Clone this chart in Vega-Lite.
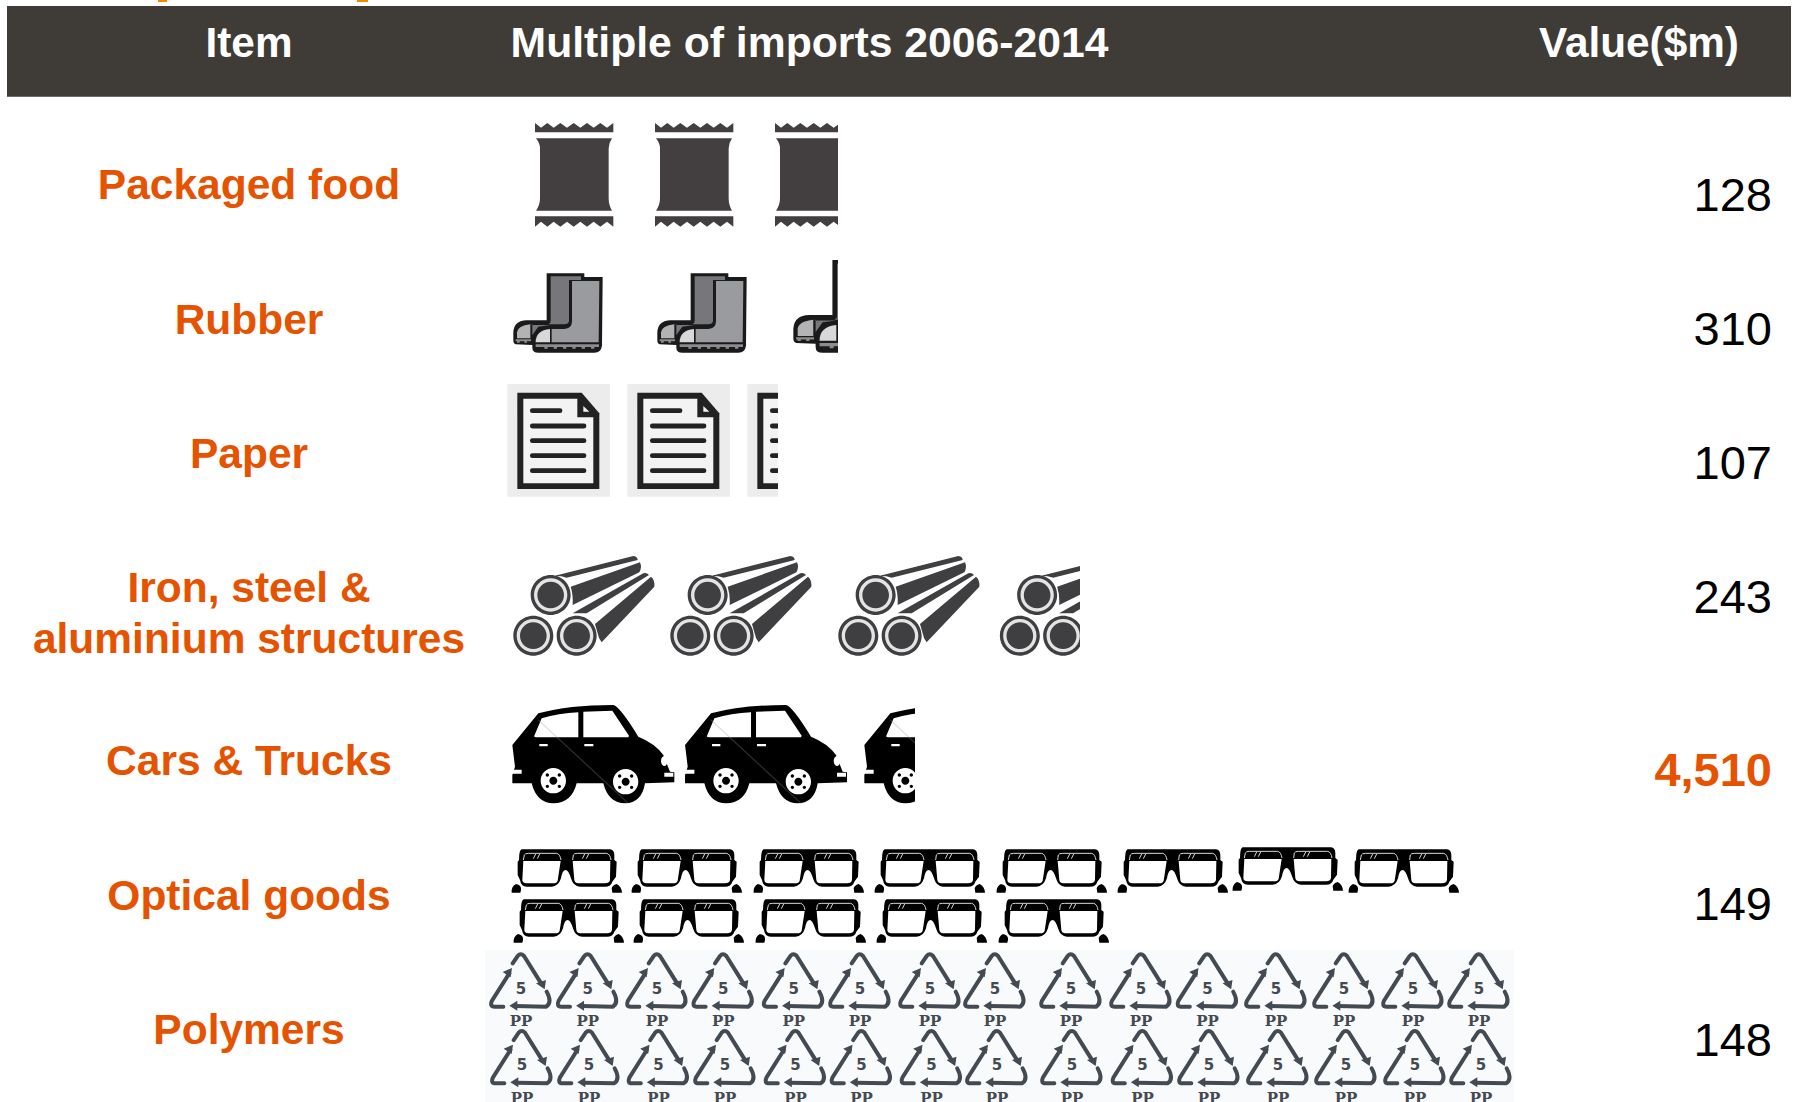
{
"$schema":"https://vega.github.io/schema/vega-lite/v6.json",
"width":1796,"height":1102,"padding":0,
"autosize":{"type":"none"},
"background":"white",
"config":{"view":{"stroke":null}},
"datasets":{
"bar":[{"x":0.07,"x2":17.91,"y":0.06,"y2":0.967}],
"scraps":[{"x":1.58,"x2":1.67,"y":0,"y2":0.02},{"x":3.57,"x2":3.68,"y":0,"y2":0.02}],
"header":[{"label":"Item","x":2.49,"y":0.57},{"label":"Value($m)","x":16.39,"y":0.57}],
"headerWide":[{"label":"Multiple of imports 2006-2014","x":8.095,"y":0.57}],
"labels":[{"label":"Packaged food","x":2.49,"y":1.99},{"label":"Rubber","x":2.49,"y":3.34},{"label":"Paper","x":2.49,"y":4.68},{"label":"Iron, steel &","x":2.49,"y":6.02},{"label":"aluminium structures","x":2.49,"y":6.53},{"label":"Cars & Trucks","x":2.49,"y":7.75},{"label":"Optical goods","x":2.49,"y":9.10},{"label":"Polymers","x":2.49,"y":10.44}],
"values":[{"item":"Packaged food","value":"128","x":17.72,"y":2.107},{"item":"Rubber","value":"310","x":17.72,"y":3.447},{"item":"Paper","value":"107","x":17.72,"y":4.793},{"item":"Iron, steel & aluminium structures","value":"243","x":17.72,"y":6.134},{"item":"Optical goods","value":"149","x":17.72,"y":9.204},{"item":"Polymers","value":"148","x":17.72,"y":10.556}],
"highlight":[{"item":"Cars & Trucks","value":"4,510","x":17.72,"y":7.864}],
"food":[{"x":5.10,"y":1.15},{"x":6.30,"y":1.15},{"x":7.50,"y":1.15}],
"boots":[{"x":5.05,"y":2.55,"variant":"normal"},{"x":6.49,"y":2.55,"variant":"normal"},{"x":7.836,"y":2.384,"variant":"stretched"}],
"paper":[{"x":5.00,"y":3.80},{"x":6.20,"y":3.80},{"x":7.40,"y":3.80}],
"pipes":[{"x":5.05,"y":5.45},{"x":6.62,"y":5.45},{"x":8.30,"y":5.45},{"x":9.915,"y":5.45}],
"cars":[{"x":5.05,"y":6.95},{"x":6.777,"y":6.95},{"x":8.57,"y":6.95}],
"glasses":[{"x":5.05,"y":8.40},{"x":6.25,"y":8.40},{"x":7.47,"y":8.40},{"x":8.68,"y":8.40},{"x":9.90,"y":8.40},{"x":11.11,"y":8.40},{"x":12.26,"y":8.38},{"x":13.42,"y":8.40},{"x":5.07,"y":8.90},{"x":6.27,"y":8.90},{"x":7.49,"y":8.90},{"x":8.70,"y":8.90},{"x":9.92,"y":8.90}],
"polymer":[{"x":4.70,"y":9.30},{"x":5.367,"y":9.30},{"x":6.06,"y":9.30},{"x":6.723,"y":9.30},{"x":7.427,"y":9.30},{"x":8.09,"y":9.30},{"x":8.79,"y":9.30},{"x":9.44,"y":9.30},{"x":10.20,"y":9.30},{"x":10.90,"y":9.30},{"x":11.565,"y":9.30},{"x":12.25,"y":9.30},{"x":12.93,"y":9.30},{"x":13.62,"y":9.30},{"x":14.28,"y":9.30},
{"x":4.71,"y":10.067},{"x":5.38,"y":10.067},{"x":6.075,"y":10.067},{"x":6.74,"y":10.067},{"x":7.445,"y":10.067},{"x":8.105,"y":10.067},{"x":8.805,"y":10.067},{"x":9.46,"y":10.067},{"x":10.21,"y":10.067},{"x":10.915,"y":10.067},{"x":11.58,"y":10.067},{"x":12.27,"y":10.067},{"x":12.95,"y":10.067},{"x":13.64,"y":10.067},{"x":14.30,"y":10.067}],
"polymerBack":[{"x":4.85,"x2":15.14,"y":9.50,"y2":11.02}],
"cuts":[{"x":8.38,"x2":9.6,"y":1.15,"y2":2.4},{"x":8.38,"x2":9.6,"y":2.5,"y2":3.65},{"x":7.78,"x2":8.9,"y":3.8,"y2":5.05},{"x":10.80,"x2":11.95,"y":5.45,"y2":6.7},{"x":9.15,"x2":10.3,"y":6.9,"y2":8.1}]
},
"encoding":{
"x":{"field":"x","type":"quantitative","scale":{"domain":[0,17.96],"nice":false,"zero":false},"axis":null},
"y":{"field":"y","type":"quantitative","scale":{"domain":[0,11.02],"nice":false,"zero":false,"reverse":true},"axis":null}
},
"layer":[
{"data":{"name":"scraps"},"mark":{"type":"rect","fill":"#f28a00"},"encoding":{"x2":{"field":"x2"},"y2":{"field":"y2"}}},
{"data":{"name":"bar"},"mark":{"type":"rect","fill":"#3f3b36"},"encoding":{"x2":{"field":"x2"},"y2":{"field":"y2"}}},
{"data":{"name":"polymerBack"},"mark":{"type":"rect","fill":"#f9fafc"},"encoding":{"x2":{"field":"x2"},"y2":{"field":"y2"}}},
{"data":{"name":"header"},"mark":{"type":"text","font":"Liberation Sans","fontWeight":"bold","fontSize":42.3,"fill":"white","align":"center","baseline":"alphabetic"},"encoding":{"text":{"field":"label"}}},
{"data":{"name":"headerWide"},"mark":{"type":"text","font":"Liberation Sans","fontWeight":"bold","fontSize":42.7,"fill":"white","align":"center","baseline":"alphabetic"},"encoding":{"text":{"field":"label"}}},
{"data":{"name":"labels"},"mark":{"type":"text","font":"Liberation Sans","fontWeight":"bold","fontSize":42.5,"fill":"#e65300","align":"center","baseline":"alphabetic"},"encoding":{"text":{"field":"label"}}},
{"data":{"name":"values"},"mark":{"type":"text","font":"Liberation Sans","fontSize":47,"fill":"black","align":"right","baseline":"alphabetic"},"encoding":{"text":{"field":"value"}}},
{"data":{"name":"highlight"},"mark":{"type":"text","font":"Liberation Sans","fontWeight":"bold","fontSize":47,"fill":"#e65300","align":"right","baseline":"alphabetic"},"encoding":{"text":{"field":"value"}}},

{"data":{"name":"food"},"mark":{"type":"point","filled":true,"opacity":1,"size":0.4444,"fill":"#433e40","strokeWidth":0,"shape":"M75 52L75 24L93 38L112 24L131 38L151 24L171 38L191 24L211 38L231 24L251 38L271 24L291 38L310 24L310 52ZM78 70L306 70Q296 85 296 100L296 250Q296 270 306 287L78 287Q90 270 90 250L90 100Q90 85 78 70ZM75 304L310 304L310 335L291 320L271 335L251 320L231 335L211 320L191 335L171 320L151 335L131 320L112 335L93 320L75 335Z"}},

{"data":{"name":"boots"},"mark":{"type":"point","filled":true,"opacity":1,"fill":"#1a1a1a","strokeWidth":0,"shape":"M125 55L238 55L238 66L293 66L291 272Q288 293 268 293L100 293Q82 293 82 278L82 270L32 268Q25 266 25 256L25 230Q28 197 65 196L125 196Z"},"encoding":{"size":{"field":"variant","type":"ordinal","scale":{"domain":["normal","stretched"],"range":[0.4444,0.61]},"legend":null}}},
{"data":{"name":"boots"},"mark":{"type":"point","filled":true,"opacity":1,"fill":"#77777b","strokeWidth":0,"shape":"M137 64L228 64L228 75L192 75L192 198Q190 208 178 208L82 208L82 240L100 215L135 210L80 210L80 208L130 208Q137 206 137 198Z"},"encoding":{"size":{"field":"variant","type":"ordinal","scale":{"domain":["normal","stretched"],"range":[0.4444,0.61]},"legend":null}}},
{"data":{"name":"boots"},"mark":{"type":"point","filled":true,"opacity":1,"fill":"#b3b3b6","strokeWidth":0,"shape":"M36 250L36 232Q38 212 76 208L76 250Z"},"encoding":{"size":{"field":"variant","type":"ordinal","scale":{"domain":["normal","stretched"],"range":[0.4444,0.61]},"legend":null}}},
{"data":{"name":"boots"},"mark":{"type":"point","filled":true,"opacity":1,"fill":"#9a9b9f","strokeWidth":0,"shape":"M201 78L283 78L281 262L140 262L140 222L178 222Q200 220 201 200Z"},"encoding":{"size":{"field":"variant","type":"ordinal","scale":{"domain":["normal","stretched"],"range":[0.4444,0.61]},"legend":null}}},
{"data":{"name":"boots"},"mark":{"type":"point","filled":true,"opacity":1,"fill":"#d8d8da","strokeWidth":0,"shape":"M92 262Q92 226 135 222L135 262Z"},"encoding":{"size":{"field":"variant","type":"ordinal","scale":{"domain":["normal","stretched"],"range":[0.4444,0.61]},"legend":null}}},
{"data":{"name":"boots"},"mark":{"type":"point","filled":true,"opacity":1,"fill":"#8c8c90","strokeWidth":0,"shape":"M92 268L282 268L282 276L268 276L268 281L258 281L258 276L240 276L240 281L230 281L230 276L212 276L212 281L202 281L202 276L184 276L184 281L174 281L174 276L156 276L156 281L146 281L146 276L128 276L128 281L118 281L118 276L92 276ZM32 253L78 253L78 259L66 259L66 263L58 263L58 259L44 259L44 263L36 263L36 259L32 259Z"},"encoding":{"size":{"field":"variant","type":"ordinal","scale":{"domain":["normal","stretched"],"range":[0.4444,0.61]},"legend":null}}},

{"data":{"name":"paper"},"mark":{"type":"point","filled":true,"opacity":1,"size":0.4444,"fill":"#ececec","strokeWidth":0,"shape":"M22 12L330 12L330 350L22 350Z"}},
{"data":{"name":"paper"},"mark":{"type":"point","filled":true,"opacity":1,"size":0.4444,"fill":"#222222","strokeWidth":0,"shape":"M52 38L245 38L298 100L298 327L52 327Z"}},
{"data":{"name":"paper"},"mark":{"type":"point","filled":true,"opacity":1,"size":0.4444,"fill":"#f3f3f3","strokeWidth":0,"shape":"M70 56L232 56L232 112L280 112L280 310L70 310ZM250 78L268 95L250 95Z"}},
{"data":{"name":"paper"},"mark":{"type":"point","filled":false,"opacity":1,"size":0.4444,"stroke":"#222222","strokeWidth":4.8,"strokeCap":"round","shape":"M97 92L180 92M97 138L252 138M97 182L252 182M97 227L252 227M97 272L252 272"}},

{"data":{"name":"pipes"},"mark":{"type":"point","filled":true,"opacity":1,"size":0.4444,"fill":"#3f3f41","strokeWidth":0,"shape":"M150 92L385 33Q398 35 398 45L185 98Q170 92 150 92ZM197 125L405 52Q412 68 403 82L203 180Q205 150 197 125ZM203 205L415 85Q425 82 432 90L245 205ZM270 237L438 95Q450 105 448 125L290 292Q280 280 278 265ZM77 150A60 60 0 1 0 197 150A60 60 0 1 0 77 150ZM25 272A60 60 0 1 0 145 272A60 60 0 1 0 25 272ZM155 272A60 60 0 1 0 275 272A60 60 0 1 0 155 272Z"}},
{"data":{"name":"pipes"},"mark":{"type":"point","filled":true,"opacity":1,"size":0.4444,"fill":"#e4e4e4","strokeWidth":0,"shape":"M87 150A50 50 0 1 0 187 150A50 50 0 1 0 87 150ZM35 272A50 50 0 1 0 135 272A50 50 0 1 0 35 272ZM165 272A50 50 0 1 0 265 272A50 50 0 1 0 165 272Z"}},
{"data":{"name":"pipes"},"mark":{"type":"point","filled":true,"opacity":1,"size":0.4444,"fill":"#3f3f41","strokeWidth":0,"shape":"M97 150A40 40 0 1 0 177 150A40 40 0 1 0 97 150ZM45 272A40 40 0 1 0 125 272A40 40 0 1 0 45 272ZM175 272A40 40 0 1 0 255 272A40 40 0 1 0 175 272Z"}},

{"data":{"name":"cars"},"mark":{"type":"point","filled":true,"opacity":1,"size":0.4444,"fill":"#000000","strokeWidth":0,"shape":"M22 150L100 55Q190 30 325 30Q345 35 400 125Q450 145 475 180L495 230L508 232L508 262L420 265Q410 325 360 325Q310 325 295 265L215 265Q200 325 145 325Q95 325 80 265L22 265L22 240L30 215Z"}},
{"data":{"name":"cars"},"mark":{"type":"point","filled":true,"opacity":1,"size":0.4444,"fill":"#ffffff","strokeWidth":0,"shape":"M88 122L110 70Q160 55 220 52L220 127L95 127Q85 127 88 122ZM235 50L322 47L372 122L370 127L235 127ZM103 147L128 147L128 154L103 154ZM238 147L265 147L265 154L238 154ZM468 198A10 15 0 1 0 488 198A10 15 0 1 0 468 198ZM22 224L50 224L50 236L22 236ZM478 233L505 233L505 245L478 245ZM107 257A38 38 0 1 0 183 257A38 38 0 1 0 107 257ZM324 260A38 38 0 1 0 400 260A38 38 0 1 0 324 260Z"}},
{"data":{"name":"cars"},"mark":{"type":"point","filled":true,"opacity":1,"size":0.4444,"fill":"#000000","strokeWidth":0,"shape":"M133 257A12 12 0 1 0 157 257A12 12 0 1 0 133 257ZM350 260A12 12 0 1 0 374 260A12 12 0 1 0 350 260ZM122 240A5 5 0 1 0 132 240A5 5 0 1 0 122 240ZM158 240A5 5 0 1 0 168 240A5 5 0 1 0 158 240ZM122 274A5 5 0 1 0 132 274A5 5 0 1 0 122 274ZM158 274A5 5 0 1 0 168 274A5 5 0 1 0 158 274ZM339 243A5 5 0 1 0 349 243A5 5 0 1 0 339 243ZM375 243A5 5 0 1 0 385 243A5 5 0 1 0 375 243ZM339 277A5 5 0 1 0 349 277A5 5 0 1 0 339 277ZM375 277A5 5 0 1 0 385 277A5 5 0 1 0 375 277Z"}},
{"data":{"name":"cars"},"mark":{"type":"point","filled":false,"opacity":0.3,"size":0.4444,"stroke":"#999999","strokeWidth":1.2,"shape":"M100 75L370 325"}},

{"data":{"name":"glasses"},"mark":{"type":"point","filled":true,"opacity":1,"size":0.4444,"fill":"#000000","strokeWidth":0,"shape":"M50 28L315 28Q328 30 328 45L328 60L335 65L333 110L322 125Q318 140 300 140L225 140Q205 140 198 115Q190 90 182 90Q172 90 168 115Q160 140 140 140L65 140Q48 140 45 120L38 105L38 65L42 60Q42 30 50 28ZM33 132Q50 135 48 150L46 158L20 158Q18 140 33 132ZM335 132Q350 140 351 158L322 158L320 145Q322 136 335 132Z"}},
{"data":{"name":"glasses"},"mark":{"type":"point","filled":true,"opacity":1,"size":0.4444,"fill":"#ffffff","strokeWidth":0,"shape":"M55 63L167 63L158 122Q155 130 145 130L65 130Q53 130 52 120ZM203 63L316 63L315 120Q313 130 300 130L220 130Q210 130 208 120Z"}},
{"data":{"name":"glasses"},"mark":{"type":"point","filled":false,"opacity":0.85,"size":0.4444,"stroke":"#ffffff","strokeWidth":1,"shape":"M55 60L58 45Q60 40 70 40L155 40Q165 42 168 60M203 60L205 45Q207 40 217 40L305 40Q315 42 318 60M85 56L92 42M97 56L104 42M232 56L239 42M244 56L251 42"}},

{"data":{"name":"polymer"},"mark":{"type":"point","filled":false,"opacity":1,"size":0.4444,"stroke":"#444a52","strokeWidth":4,"strokeCap":"round","shape":"M128 100L143 78Q152 68 162 78L212 158M118 130L66 212Q58 230 74 230L100 230M230 185Q248 218 228 230L135 228"}},
{"data":{"name":"polymer"},"mark":{"type":"point","filled":true,"opacity":1,"size":0.4444,"fill":"#444a52","strokeWidth":0,"shape":"M198 160L228 150L224 178ZM126 114L98 126L122 142ZM118 227L142 212L142 242Z"}},
{"data":{"name":"polymer"},"mark":{"type":"text","font":"DejaVu Sans","fontWeight":"bold","fontSize":15,"fill":"#444a52","align":"center","baseline":"middle","dx":51,"dy":58.7,"text":"5"}},
{"data":{"name":"polymer"},"mark":{"type":"text","font":"DejaVu Serif","fontWeight":"bold","fontSize":15,"fill":"#444a52","align":"center","baseline":"alphabetic","dx":51,"dy":96,"text":"PP"}},

{"data":{"name":"cuts"},"mark":{"type":"rect","fill":"white"},"encoding":{"x2":{"field":"x2"},"y2":{"field":"y2"}}}
]
}
